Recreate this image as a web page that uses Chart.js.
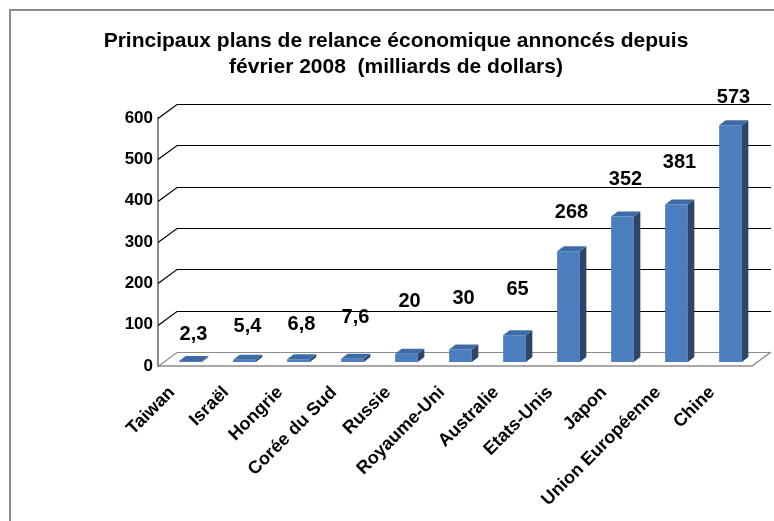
<!DOCTYPE html>
<html lang="fr">
<head>
<meta charset="utf-8">
<title>Plans de relance</title>
<script src="https://cdn.jsdelivr.net/npm/chart.js@4.4.1/dist/chart.umd.min.js"></script>
<style>
  html, body { margin: 0; padding: 0; background: #fff; }
  #wrap { width: 774px; height: 521px; position: relative; }
</style>
</head>
<body>
<div id="wrap"><canvas id="plansChart"></canvas></div>
<script>
// Données : plans de relance (milliards de dollars)
const pays = ['Taiwan', 'Israël', 'Hongrie', 'Corée du Sud', 'Russie', 'Royaume-Uni',
              'Australie', 'Etats-Unis', 'Japon', 'Union Européenne', 'Chine'];
const montants = [2.3, 5.4, 6.8, 7.6, 20, 30, 65, 268, 352, 381, 573];
const graduations = [0, 100, 200, 300, 400, 500, 600];

// hauteur des étiquettes au-dessus de chaque barre (px)
const hausseEtiquettes = [27, 33, 35, 41, 52, 51, 46, 39, 37, 42, 28];

// effet 3D : fond du graphique et épaisseur des barres
const FOND = { dx: 19, dy: -14 };
const AVANT_BARRE = { dx: 5.5, dy: -4 };
const PROF_BARRE = { dx: 6.5, dy: -5 };

const bleuFace = '#4a7ebf';
const bleuCote = '#2c4569';
const bleuDessus = '#3e6ba6';
const gris = '#8c8c8c';

const formatFr = v => v.toLocaleString('fr-FR');

const cadre = {
  id: 'cadre',
  beforeDraw(chart) {
    const ctx = chart.ctx;
    ctx.save();
    ctx.fillStyle = '#fff';
    ctx.fillRect(0, 0, chart.width, chart.height);
    ctx.strokeStyle = gris;
    ctx.lineWidth = 2;
    ctx.beginPath();
    ctx.moveTo(10, chart.height);
    ctx.lineTo(10, 10);
    ctx.lineTo(chart.width, 10);
    ctx.stroke();
    ctx.restore();
  }
};

const vue3d = {
  id: 'vue3d',
  beforeDatasetsDraw(chart) {
    const { ctx, chartArea: a, scales: { y } } = chart;
    ctx.save();
    // murs : lignes de grille sur le côté et au fond
    y.ticks.forEach(t => {
      const py = Math.round(y.getPixelForValue(t.value)) + 0.5;
      ctx.strokeStyle = t.value === 0 ? gris : '#000';
      ctx.lineWidth = 1.2;
      ctx.beginPath();
      ctx.moveTo(a.left, py);
      ctx.lineTo(a.left + FOND.dx, py + FOND.dy);
      ctx.lineTo(a.right + FOND.dx, py + FOND.dy);
      ctx.stroke();
    });
    // sol
    const py0 = y.getPixelForValue(0);
    ctx.strokeStyle = gris;
    ctx.lineWidth = 1.5;
    ctx.beginPath();
    ctx.moveTo(a.left, py0);
    ctx.lineTo(a.right, py0);
    ctx.lineTo(a.right + FOND.dx, py0 + FOND.dy);
    ctx.stroke();
    ctx.restore();
  },
  beforeDatasetDraw(chart) {
    chart.ctx.save();
    chart.ctx.translate(AVANT_BARRE.dx, AVANT_BARRE.dy);
  },
  afterDatasetDraw(chart, args) {
    const ctx = chart.ctx;
    args.meta.data.forEach(bar => {
      const l = bar.x - bar.width / 2;
      const r = bar.x + bar.width / 2;
      // côté droit
      ctx.fillStyle = bleuCote;
      ctx.beginPath();
      ctx.moveTo(r, bar.y);
      ctx.lineTo(r + PROF_BARRE.dx, bar.y + PROF_BARRE.dy);
      ctx.lineTo(r + PROF_BARRE.dx, bar.base + PROF_BARRE.dy);
      ctx.lineTo(r, bar.base);
      ctx.closePath();
      ctx.fill();
      // dessus
      ctx.fillStyle = bleuDessus;
      ctx.beginPath();
      ctx.moveTo(l, bar.y);
      ctx.lineTo(l + PROF_BARRE.dx, bar.y + PROF_BARRE.dy);
      ctx.lineTo(r + PROF_BARRE.dx, bar.y + PROF_BARRE.dy);
      ctx.lineTo(r, bar.y);
      ctx.closePath();
      ctx.fill();
    });
    ctx.restore();
  },
  afterDatasetsDraw(chart) {
    const ctx = chart.ctx;
    const meta = chart.getDatasetMeta(0);
    ctx.save();
    ctx.fillStyle = '#000';
    ctx.font = 'bold 20px "Liberation Sans", Arial, sans-serif';
    ctx.textAlign = 'center';
    ctx.textBaseline = 'middle';
    meta.data.forEach((bar, i) => {
      const x = bar.x + AVANT_BARRE.dx + 3;
      const yy = bar.y + AVANT_BARRE.dy - hausseEtiquettes[i];
      ctx.fillText(formatFr(montants[i]), x, yy);
    });
    ctx.restore();
  }
};

Chart.defaults.font.family = '"Liberation Sans", Arial, sans-serif';
Chart.defaults.color = '#000';

new Chart(document.getElementById('plansChart'), {
  type: 'bar',
  data: {
    labels: pays,
    datasets: [{
      data: montants,
      backgroundColor: bleuFace,
      borderWidth: 0,
      barPercentage: 0.42,
      categoryPercentage: 1
    }]
  },
  options: {
    responsive: true,
    maintainAspectRatio: false,
    animation: false,
    layout: { padding: { left: 40, right: 22, top: 0, bottom: 0 } },
    plugins: {
      legend: { display: false },
      tooltip: { enabled: false },
      title: {
        display: true,
        text: ['Principaux plans de relance économique annoncés depuis',
               'février 2008  (milliards de dollars)'],
        font: { size: 21, weight: 'bold', lineHeight: 26 / 21 },
        color: '#000',
        padding: { top: 28, bottom: 38 }
      }
    },
    scales: {
      x: {
        grid: { display: false },
        border: { display: false },
        ticks: {
          autoSkip: false,
          minRotation: 45,
          maxRotation: 45,
          padding: 8,
          labelOffset: -13,
          font: { size: 18, weight: 'bold' }
        },
        afterFit(scale) { scale.height = 155; }
      },
      y: {
        min: 0,
        max: 600,
        grid: { display: false, drawTicks: false },
        border: { display: true, color: gris, width: 2 },
        afterBuildTicks(scale) {
          scale.ticks = graduations.map(v => ({ value: v }));
        },
        ticks: {
          padding: 5,
          font: { size: 17, weight: 'bold' }
        },
        afterFit(scale) { scale.width = 118; }
      }
    }
  },
  plugins: [cadre, vue3d]
});
</script>
</body>
</html>
